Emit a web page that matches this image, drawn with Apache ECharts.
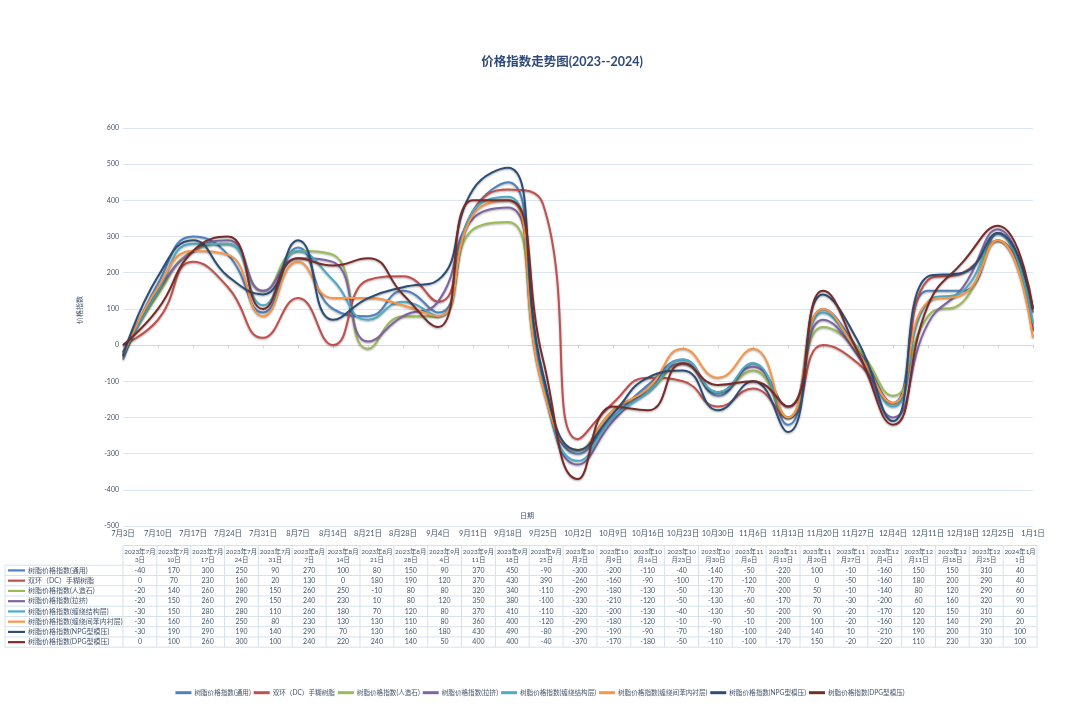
<!DOCTYPE html>
<html><head><meta charset="utf-8">
<script src="https://cdn.jsdelivr.net/npm/echarts@6/dist/echarts.min.js"></script>
<style>html,body{margin:0;padding:0;background:#fff}#c{width:1080px;height:706px}</style>
</head><body><div id="c"></div>
<script>
const categories = ['7月3日','7月10日','7月17日','7月24日','7月31日','8月7日','8月14日','8月21日','8月28日','9月4日','9月11日','9月18日','9月25日','10月2日','10月9日','10月16日','10月23日','10月30日','11月6日','11月13日','11月20日','11月27日','12月4日','12月11日','12月18日','12月25日','1月1日'];
const tableHeaders = ['2023年7月\n3日','2023年7月\n10日','2023年7月\n17日','2023年7月\n24日','2023年7月\n31日','2023年8月\n7日','2023年8月\n14日','2023年8月\n21日','2023年8月\n28日','2023年9月\n4日','2023年9月\n11日','2023年9月\n18日','2023年9月\n25日','2023年10\n月2日','2023年10\n月9日','2023年10\n月16日','2023年10\n月23日','2023年10\n月30日','2023年11\n月6日','2023年11\n月13日','2023年11\n月20日','2023年11\n月27日','2023年12\n月4日','2023年12\n月11日','2023年12\n月18日','2023年12\n月25日','2024年1月\n1日'];
const seriesNames = ['树脂价格指数(通用)','双环（DC）手糊树脂','树脂价格指数(人造石)','树脂价格指数(拉挤)','树脂价格指数(缠绕结构层)','树脂价格指数(缠绕间苯内衬层)','树脂价格指数(NPG型模压)','树脂价格指数(DPG型模压)'];
const tongyong   = [-40,170,300,250,90,270,100,80,150,90,370,450,-90,-300,-200,-110,-40,-140,-50,-220,100,-10,-160,150,150,310,40];
const dcShouhu   = [0,70,230,160,20,130,0,180,190,120,370,430,390,-260,-160,-90,-100,-170,-120,-200,0,-50,-160,180,200,290,40];
const renzaoshi  = [-20,140,260,280,150,260,250,-10,80,80,320,340,-110,-290,-180,-130,-50,-130,-70,-200,50,-10,-140,80,120,290,60];
const laji       = [-20,150,260,290,150,240,230,10,80,120,350,380,-100,-330,-210,-120,-50,-130,-60,-170,70,-30,-200,60,160,320,90];
const chanrao    = [-30,150,280,280,110,260,180,70,120,80,370,410,-110,-320,-200,-130,-40,-130,-50,-200,90,-20,-170,120,150,310,60];
const jianben    = [-30,160,260,250,80,230,130,130,110,80,360,400,-120,-290,-180,-120,-10,-90,-10,-200,100,-20,-160,120,140,290,20];
const npg        = [-30,190,290,190,140,290,70,130,160,180,430,490,-80,-290,-190,-90,-70,-180,-100,-240,140,10,-210,190,200,310,100];
const dpg        = [0,100,260,300,100,240,220,240,140,50,400,400,-40,-370,-170,-180,-50,-110,-100,-170,150,-20,-220,110,230,330,100];
const seriesData = [tongyong, dcShouhu, renzaoshi, laji, chanrao, jianben, npg, dpg];
const colors = ['#4F81BD','#C0504D','#9BBB59','#8064A2','#4BACC6','#F79646','#2C4D75','#772C2A'];

const FONT = "Lato, 'Noto Sans CJK SC', sans-serif";
const TXT = '#44546A';
const chart = echarts.init(document.getElementById('c'));
chart.setOption({
  animation: false,
  color: colors,
  textStyle: {fontFamily: FONT},
  grid: [
    {left: 123, right: 47, top: 128, bottom: 180},
    {left: 123, right: 43, top: 545, height: 102, show: false}
  ],
  legend: {
    bottom: 5, left: 'center', icon: 'rect', itemWidth: 16, itemHeight: 3, itemGap: 3,
    textStyle: {fontSize: 6.6, color: TXT, fontFamily: FONT, padding: [0, 0, 0, -2]},
    data: seriesNames
  },
  xAxis: [
    {type: 'category', gridIndex: 0, data: categories, boundaryGap: false,
     axisLine: {lineStyle: {color: '#C9D7E8'}},
     axisTick: {show: true, length: 3, lineStyle: {color: '#C9D7E8'}},
     axisLabel: {fontSize: 7.5, color: TXT, margin: 4, interval: 0}},
    {type: 'category', gridIndex: 1, data: categories, boundaryGap: true, show: false}
  ],
  yAxis: [
    {type: 'value', gridIndex: 0, min: -500, max: 600, interval: 100,
     axisLabel: {fontSize: 7, color: TXT, margin: 4},
     axisLine: {show: false}, axisTick: {show: false},
     splitLine: {lineStyle: {color: '#DCE6F2'}}},
    {type: 'value', gridIndex: 1, show: false}
  ],
  series: seriesData.map((d, i) => ({
    name: seriesNames[i], type: 'line', data: d, smooth: 0.5, symbol: 'none',
    xAxisIndex: 0, yAxisIndex: 0,
    lineStyle: {width: 2, color: colors[i], shadowBlur: 2, shadowColor: 'rgba(0,0,0,0.35)', shadowOffsetY: 1}
  }))
});

// build data table + titles
const colX = categories.map((_, i) => chart.convertToPixel({xAxisIndex: 1}, i));
const colW = colX[1] - colX[0];
const tLeft = colX[0] - colW / 2, tRight = colX[colX.length - 1] + colW / 2;
const labLeft = 5;
const hTop = 545.5, hBot = 565.2, rowH = 10.25;
const tBot = hBot + rowH * seriesNames.length;
const BC = '#D6E1EE';
const els = [];
function line(x1, y1, x2, y2) {
  els.push({type: 'line', shape: {x1, y1, x2, y2}, style: {stroke: BC, lineWidth: 1}, silent: true});
}
line(tLeft, hTop, tRight, hTop);
line(labLeft, hBot, tRight, hBot);
for (let r = 1; r <= seriesNames.length; r++) line(labLeft, hBot + rowH * r, tRight, hBot + rowH * r);
line(labLeft, hBot, labLeft, tBot);
for (let c = 0; c <= categories.length; c++) {
  const x = tLeft + colW * c;
  line(x, hTop, x, tBot);
}
tableHeaders.forEach((h, c) => {
  els.push({type: 'text', x: colX[c], y: (hTop + hBot) / 2 + 0.5, silent: true,
    style: {text: h, fill: TXT, font: '6.4px ' + FONT, align: 'center', verticalAlign: 'middle', lineHeight: 8}});
});
seriesData.forEach((d, r) => {
  const yc = hBot + rowH * (r + 0.5);
  els.push({type: 'rect', shape: {x: 8, y: yc - 1, width: 17, height: 2.2}, style: {fill: colors[r]}, silent: true});
  els.push({type: 'text', x: 28, y: yc, silent: true,
    style: {text: seriesNames[r], fill: TXT, font: '7px ' + FONT, align: 'left', verticalAlign: 'middle'}});
  d.forEach((v, c) => {
    els.push({type: 'text', x: colX[c], y: yc, silent: true,
      style: {text: String(v), fill: TXT, font: '7px ' + FONT, align: 'center', verticalAlign: 'middle'}});
  });
});
els.push({type: 'text', x: 562, y: 62, silent: true,
  style: {text: '价格指数走势图(2023--2024)', fill: '#2F4A7A', font: 'bold 12.5px ' + FONT, align: 'center', verticalAlign: 'middle'}});
els.push({type: 'text', x: 80, y: 310, rotation: Math.PI / 2, silent: true,
  style: {text: '价格指数', fill: TXT, font: '7px ' + FONT, align: 'center', verticalAlign: 'middle'}});
els.push({type: 'text', x: 527, y: 516, silent: true,
  style: {text: '日期', fill: TXT, font: '7px ' + FONT, align: 'center', verticalAlign: 'middle'}});
chart.setOption({graphic: {elements: els}});
</script>
</body></html>
